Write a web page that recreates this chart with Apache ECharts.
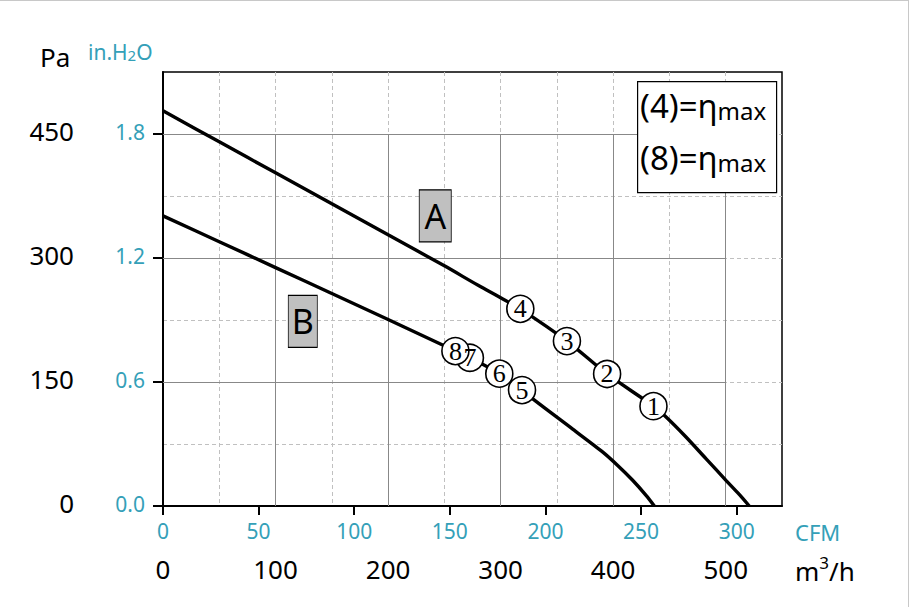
<!DOCTYPE html>
<html><head><meta charset="utf-8">
<script src="https://cdn.jsdelivr.net/npm/echarts@6/dist/echarts.min.js"></script>
<style>html,body{margin:0;padding:0;background:#fff}#c{width:910px;height:607px}</style>
</head><body><div id="c"></div>
<script>
// ---- data (flow in m3/h, pressure in Pa) ----
const flowA  = [0, 50, 100, 150, 200, 250, 280, 300, 317.5, 358.9, 394.6, 435.8, 447, 464.7, 482.4, 500.2, 512, 520.9];
const pressA = [478, 440.5, 403, 365.5, 328, 290.5, 267, 252, 238.5, 199.5, 159.7, 120.8, 107.7, 83.5, 57.3, 31.1, 14, 0];
const flowB  = [0, 50, 100, 150, 200, 259.8, 272.7, 298.8, 319, 330, 364, 390, 404, 417.3, 429.2, 436.6];
const pressB = [351, 319.7, 288.4, 257, 225.6, 187.4, 179.3, 160.1, 140.2, 128, 93, 66, 49, 31.1, 12.9, 0];

const markFlowA  = [435.8, 394.6, 358.9, 317.5];
const markPressA = [120.8, 159.7, 199.5, 238.5];
const markNameA  = ['1', '2', '3', '4'];
const markFlowB  = [319, 298.8, 272.7, 259.8];
const markPressB = [140.2, 160.1, 179.3, 187.4];
const markNameB  = ['5', '6', '7', '8'];

const curveNames = ['A', 'B'];

const paLabels    = ['0', '150', '300', '450'];
const inH2OLabels = ['0.0', '0.6', '1.2', '1.8'];
const m3hLabels   = ['0', '100', '200', '300', '400', '500'];
const cfmLabels   = ['0', '50', '100', '150', '200', '250', '300'];
const legendLines = ['(4)=η', '(8)=η'];

// ---- layout ----
const TEAL = '#34a0b8';
const FAM = '"Noto Sans", "Open Sans", sans-serif';
const SERIF = '"Liberation Serif", "Times New Roman", serif';
const PX_PER_M3H = 619 / 550;
const PX_PER_PA = 434 / 525;
const CFM_TO_M3H = 1.69901;

const chart = echarts.init(document.getElementById('c'), null, {renderer: 'svg'});

const lineSeries = (name, xs, ys, labelCoord) => ({
  type: 'line', name, xAxisIndex: 0, yAxisIndex: 0, z: 2,
  data: xs.map((x, i) => [x, ys[i]]),
  showSymbol: false, smooth: 0.3,
  lineStyle: {color: '#000', width: 3.4},
  silent: true,
  markPoint: {
    silent: true,
    symbol: 'rect',
    symbolSize: labelCoord.size,
    itemStyle: {color: '#c0c0c0', borderColor: '#000', borderWidth: 1},
    label: {show: true, position: 'inside', color: '#000', fontFamily: FAM, fontSize: 34, formatter: name},
    data: [{coord: labelCoord.c}]
  }
});

const markerSeries = (xs, ys, names) => ({
  type: 'scatter', xAxisIndex: 0, yAxisIndex: 0, z: 3, silent: true,
  data: xs.map((x, i) => [x, ys[i], names[i]]),
  symbol: 'circle', symbolSize: 27,
  itemStyle: {color: '#fff', borderColor: '#000', borderWidth: 1.6, opacity: 1},
  label: {show: true, position: 'inside', color: '#000', fontFamily: SERIF, fontSize: 26,
          formatter: p => p.data[2]}
});

const dashed = {show: true, showMinLine: false, showMaxLine: false, lineStyle: {color: '#c0c0c0', width: 1, type: [4, 3]}};
const solid = {show: true, showMinLine: false, lineStyle: {color: '#888', width: 1, type: 'solid'}};

const option = {
  animation: false,
  backgroundColor: '#fff',
  grid: [
    {left: 163, top: 72, width: 619, height: 434, show: true, borderColor: '#000', borderWidth: 1.5, backgroundColor: 'transparent'},
    {left: 163, top: 506 - 450 * PX_PER_PA, width: 500 * PX_PER_M3H, height: 450 * PX_PER_PA},
    {left: 163, top: 72, width: 300 * CFM_TO_M3H * PX_PER_M3H, height: 434}
  ],
  xAxis: [
    {type: 'value', gridIndex: 0, min: 0, max: 550, interval: 50,
     axisLine: {show: true, lineStyle: {color: '#000', width: 2}}, axisTick: {show: false}, axisLabel: {show: false},
     splitLine: dashed},
    {type: 'value', gridIndex: 1, min: 0, max: 500, interval: 100, z: 1,
     axisLine: {show: false}, axisTick: {show: false},
     axisLabel: {show: true, margin: 50, color: '#000', fontFamily: FAM, fontSize: 26, formatter: (v, i) => m3hLabels[i]},
     splitLine: solid},
    {type: 'value', gridIndex: 2, min: 0, max: 300, interval: 50,
     axisLine: {show: false}, axisTick: {show: true, length: 9, lineStyle: {color: '#000', width: 2}},
     axisLabel: {show: true, margin: 14, color: TEAL, fontFamily: FAM, fontSize: 21, formatter: (v, i) => cfmLabels[i]},
     splitLine: {show: false}}
  ],
  yAxis: [
    {type: 'value', gridIndex: 0, min: 0, max: 525, interval: 75,
     axisLine: {show: true, lineStyle: {color: '#000', width: 2}}, axisTick: {show: false}, axisLabel: {show: false},
     splitLine: dashed},
    {type: 'value', gridIndex: 1, min: 0, max: 450, interval: 150, z: 1,
     axisLine: {show: false}, axisTick: {show: false},
     axisLabel: {show: true, margin: 89, color: '#000', fontFamily: FAM, fontSize: 26, verticalAlign: 'bottom', lineHeight: 6,
                 formatter: (v, i) => paLabels[i]},
     splitLine: solid},
    {type: 'value', gridIndex: 1, min: 0, max: 1.8, interval: 0.6, position: 'left',
     axisLine: {show: false}, axisTick: {show: true, length: 10, lineStyle: {color: '#000', width: 2}},
     axisLabel: {show: true, margin: 18, color: TEAL, fontFamily: FAM, fontSize: 21, verticalAlign: 'bottom', lineHeight: 4,
                 formatter: (v, i) => inH2OLabels[i]},
     splitLine: {show: false}},
    {type: 'value', gridIndex: 2, min: 0, max: 525, show: false,
     axisLine: {show: false}, axisTick: {show: false}, axisLabel: {show: false}, splitLine: {show: false}}
  ],
  series: [
    lineSeries(curveNames[0], flowA, pressA, {c: [241.9, 351], size: [32, 52]}),
    lineSeries(curveNames[1], flowB, pressB, {c: [124.2, 223.4], size: [29, 52]}),
    markerSeries(markFlowA, markPressA, markNameA),
    markerSeries(markFlowB, markPressB, markNameB)
  ],
  graphic: [
    {type: 'line', shape: {x1: 0, y1: 0.5, x2: 908.5, y2: 0.5}, style: {stroke: '#c8c8c8', lineWidth: 1}},
    {type: 'line', shape: {x1: 908.5, y1: 0, x2: 908.5, y2: 607}, style: {stroke: '#c8c8c8', lineWidth: 1}},
    {type: 'text', left: 40, top: 44, style: {text: 'Pa', fill: '#000', font: '26px ' + FAM}},
    {type: 'text', left: 88, top: 41, style: {
      text: '{a|in.H}{s|2}{a|O}',
      rich: {a: {font: '21px ' + FAM, lineHeight: 25, fill: TEAL, verticalAlign: 'bottom'},
             s: {font: '15px ' + FAM, lineHeight: 6, fill: TEAL, verticalAlign: 'bottom'}}}},
    {type: 'text', left: 795, top: 521, style: {text: 'CFM', fill: TEAL, font: '22px ' + FAM}},
    {type: 'text', left: 795, top: 554, style: {
      text: '{a|m}{p|3}{a|/h}',
      rich: {a: {font: '26px ' + FAM, lineHeight: 30, fill: '#000', verticalAlign: 'bottom'},
             p: {font: '17px ' + FAM, lineHeight: 17, fill: '#000', verticalAlign: 'top'}}}},
    {type: 'rect', left: 637, top: 81, shape: {width: 139, height: 111}, style: {fill: '#fff', stroke: '#000', lineWidth: 1.2}, z: 10},
    {type: 'text', left: 640, top: 89, z: 11, style: {
      text: '{a|' + legendLines[0] + '}{s|max}',
      rich: {a: {font: '33px ' + FAM, lineHeight: 39, fill: '#000', verticalAlign: 'bottom'},
             s: {font: '24px ' + FAM, lineHeight: 14, fill: '#000', verticalAlign: 'bottom'}}}},
    {type: 'text', left: 640, top: 141, z: 11, style: {
      text: '{a|' + legendLines[1] + '}{s|max}',
      rich: {a: {font: '33px ' + FAM, lineHeight: 39, fill: '#000', verticalAlign: 'bottom'},
             s: {font: '24px ' + FAM, lineHeight: 14, fill: '#000', verticalAlign: 'bottom'}}}}
  ]
};
chart.setOption(option);
</script></body></html>
